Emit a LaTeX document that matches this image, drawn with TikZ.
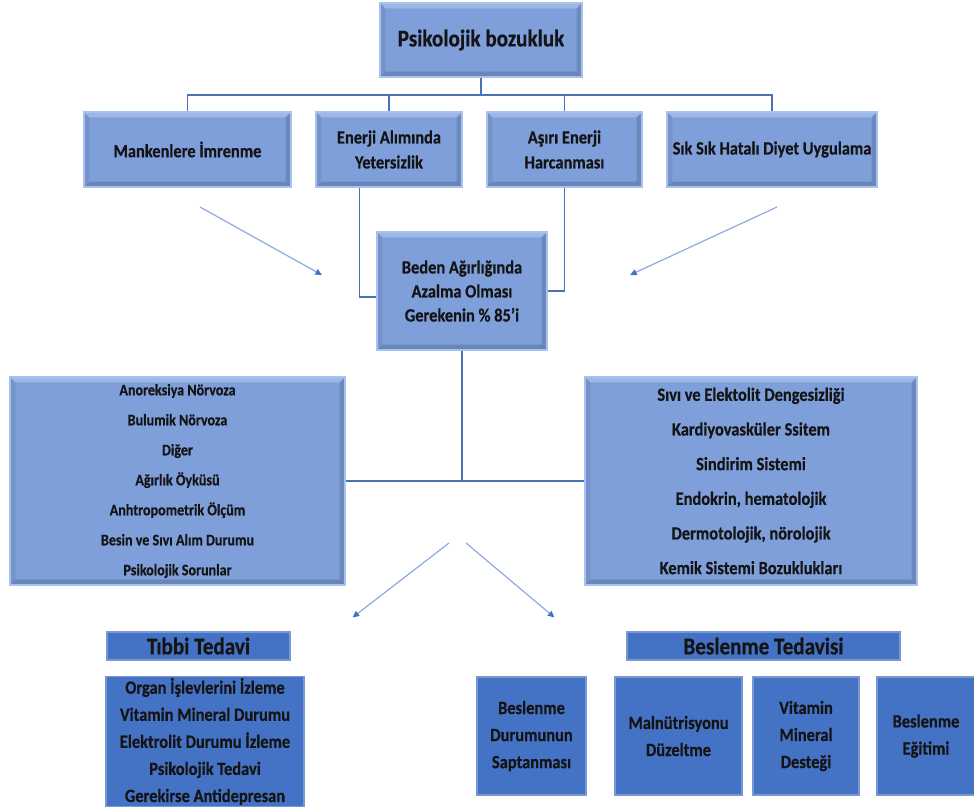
\documentclass[tikz,border=0pt]{standalone}
\usepackage{fontspec}
\setmainfont[FakeStretch=0.88, BoldFeatures={FakeBold=0.5}]{Carlito}
\usetikzlibrary{arrows.meta,calc}
\definecolor{lb}{HTML}{7F9FDB}
\definecolor{lbedge}{HTML}{A8C2F0}
\definecolor{db}{HTML}{4472C4}
\definecolor{dbedge}{HTML}{7A98D4}
\definecolor{ln}{HTML}{4A70B8}
\definecolor{arr}{HTML}{8EAADF}
\definecolor{txt}{HTML}{141414}
\tikzset{
  sz/.style 2 args={minimum width=#1*0.75pt, minimum height=#2*0.75pt},
  bevel/.style={path picture={
    \fill[white,opacity=.25] (path picture bounding box.north west) -- (path picture bounding box.north east)
      -- ([xshift=-4pt,yshift=-4pt]path picture bounding box.north east) -- ([xshift=4pt,yshift=-4pt]path picture bounding box.north west) -- cycle;
    \fill[black,opacity=.08] (path picture bounding box.north west) -- ([xshift=4pt,yshift=-4pt]path picture bounding box.north west)
      -- ([xshift=4pt,yshift=4pt]path picture bounding box.south west) -- (path picture bounding box.south west) -- cycle;
    \fill[black,opacity=.14] (path picture bounding box.north east) -- ([xshift=-4pt,yshift=-4pt]path picture bounding box.north east)
      -- ([xshift=-4pt,yshift=4pt]path picture bounding box.south east) -- (path picture bounding box.south east) -- cycle;
    \fill[black,opacity=.16] (path picture bounding box.south west) -- ([xshift=4pt,yshift=4pt]path picture bounding box.south west)
      -- ([xshift=-4pt,yshift=4pt]path picture bounding box.south east) -- (path picture bounding box.south east) -- cycle;
  }},
  upbox/.style={draw=lbedge, line width=0.9pt, fill=lb, bevel, inner sep=1pt, align=center, text=txt},
  dnbox/.style={draw=dbedge, line width=0.8pt, fill=db, inner sep=1pt, align=center, text=txt},
  conn/.style={draw=ln, line width=1pt},
  arrw/.style={draw=arr, line width=0.9pt, -{Triangle[length=5pt,width=4.5pt,color=db]}},
  f2/.style={font=\bfseries\fontsize{14}{18.75}\selectfont},
  fb/.style={font=\bfseries\fontsize{14}{20.3}\selectfont},
}
\begin{document}
\begin{tikzpicture}[x=0.75pt,y=-0.75pt]
\useasboundingbox (0,0) rectangle (974,811);

% top
\node[upbox, sz={202}{74}, font=\bfseries\fontsize{18}{20}\selectfont] (top) at (481,40) {Psikolojik bozukluk};

% second row
\node[upbox, sz={207}{75}, f2] (m1) at (187.5,149.5) {Mankenlere İmrenme};
\node[upbox, sz={146}{75}, f2] (m2) at (389,149.5) {Enerji Alımında\\Yetersizlik};
\node[upbox, sz={155}{75}, f2] (m3) at (564.5,149.5) {Aşırı Enerji\\Harcanması};
\node[upbox, sz={210}{75}, f2] (m4) at (772,149.5) {Sık Sık Hatalı Diyet Uygulama};

% center
\node[upbox, sz={170}{118}, font=\bfseries\fontsize{14}{18}\selectfont] (mid) at (462,291) {Beden Ağırlığında\\Azalma Olması\\Gerekenin \% 85’i};

% big boxes
\node[upbox, sz={335}{208}, font=\bfseries\fontsize{12}{22.5}\selectfont] (lft) at (177.5,481) {Anoreksiya Nörvoza\\Bulumik Nörvoza\\Diğer\\Ağırlık Öyküsü\\Anhtropometrik Ölçüm\\Besin ve Sıvı  Alım Durumu\\Psikolojik Sorunlar};
\node[upbox, sz={332}{208}, font=\bfseries\fontsize{14}{26}\selectfont] (rgt) at (751,481) {Sıvı ve Elektolit Dengesizliği\\Kardiyovasküler Ssitem\\Sindirim Sistemi\\Endokrin, hematolojik\\Dermotolojik, nörolojik\\Kemik Sistemi Bozuklukları};

% bottom left
\node[dnbox, sz={183}{28}, inner sep=0pt, font=\bfseries\fontsize{18}{18}\selectfont] (tib) at (198.5,646) {Tıbbi Tedavi};
\node[dnbox, sz={198}{129}, fb] (tibl) at (205,741.5) {Organ İşlevlerini İzleme\\Vitamin Mineral  Durumu\\Elektrolit Durumu İzleme\\Psikolojik Tedavi\\Gerekirse Antidepresan};

% bottom right
\node[dnbox, sz={273}{28}, inner sep=0pt, font=\bfseries\fontsize{18}{18}\selectfont] (bes) at (763.5,646) {Beslenme Tedavisi};
\node[dnbox, sz={109}{118}, fb] (b1) at (531.5,736) {Beslenme\\Durumunun\\Saptanması};
\node[dnbox, sz={127}{118}, fb] (b2) at (678.5,736) {Malnütrisyonu\\Düzeltme};
\node[dnbox, sz={106}{118}, fb] (b3) at (806,736) {Vitamin\\Mineral\\Desteği};
\node[dnbox, sz={98}{118}, fb] (b4) at (926,736) {Beslenme\\Eğitimi};

% connectors top
\coordinate (bus) at (481,95);
\draw[conn] (top.south) -- (bus);
\draw[conn] (m1.north) |- (bus) -| (m4.north);
\draw[conn] (m2.north) |- (bus);
\draw[conn] (m3.north) |- (bus);
\draw[conn] ($(m2.south west)+(44,0)$) |- ([yshift=-4.5pt]mid.west);
\draw[conn] (m3.south) |- (mid.east);

% center to bottom
\draw[conn] (lft.east) -- (rgt.west);
\draw[conn] (mid.south) -- (mid.south |- lft.east);

% arrows
\coordinate (a1s) at (200,207); \coordinate (a1e) at (322,275);
\coordinate (a2s) at (777,207); \coordinate (a2e) at (630,275);
\coordinate (a3s) at (449,543); \coordinate (a4s) at (466,543);
\draw[arrw] (a1s) -- (a1e);
\draw[arrw] (a2s) -- (a2e);
\draw[arrw] (a3s) -- ($(tib.north east)+(62,-14)$);
\draw[arrw] (a4s) -- ($(bes.north west)+(-72,-14)$);
\end{tikzpicture}
\end{document}
